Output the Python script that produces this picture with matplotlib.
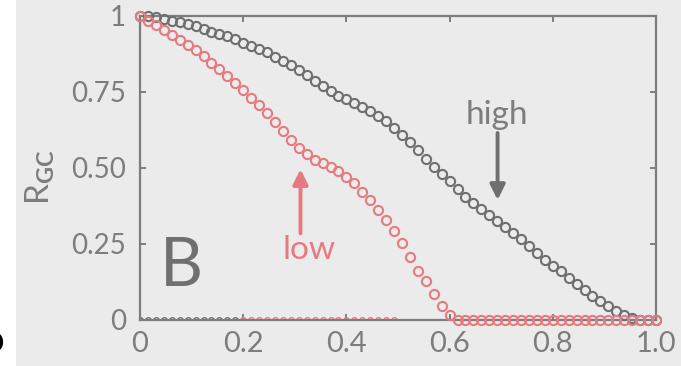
import matplotlib
matplotlib.use('Agg')
import matplotlib.pyplot as plt
import numpy as np
from matplotlib.patches import Rectangle

plt.rcParams['font.family'] = ['Lato', 'DejaVu Sans']
plt.rcParams['mathtext.fontset'] = 'custom'
plt.rcParams['mathtext.rm'] = 'Lato'
plt.rcParams['mathtext.bf'] = 'Lato:bold'

# data
x = np.linspace(0, 1, 66)
high = [1.0, 1.0, 0.998, 0.99, 0.984, 0.979, 0.974, 0.967, 0.957, 0.948,
        0.941, 0.934, 0.923, 0.912, 0.902, 0.893, 0.881, 0.866, 0.853, 0.838,
        0.824, 0.806, 0.787, 0.770, 0.752, 0.738, 0.726, 0.714, 0.702, 0.688,
        0.671, 0.654, 0.632, 0.608, 0.584, 0.558, 0.531, 0.504, 0.480, 0.458,
        0.432, 0.406, 0.386, 0.364, 0.344, 0.325, 0.306, 0.287, 0.265, 0.242,
        0.219, 0.199, 0.179, 0.160, 0.139, 0.119, 0.099, 0.080, 0.062, 0.045,
        0.029, 0.016, 0.006, 0.0, 0.0, 0.0]
low = [1.0, 0.985, 0.970, 0.954, 0.938, 0.921, 0.905, 0.887, 0.867, 0.847,
       0.825, 0.802, 0.780, 0.756, 0.731, 0.707, 0.681, 0.652, 0.622, 0.592,
       0.565, 0.545, 0.527, 0.515, 0.503, 0.491, 0.472, 0.450, 0.422, 0.394,
       0.363, 0.329, 0.293, 0.252, 0.206, 0.162, 0.128, 0.086, 0.046, 0.015] + [0.0] * 26
# markers lying on the x axis (other runs, all zero)
base_gray = [0.0] * 13
base_red = [0.0] * 20

xticks = [0, 0.2, 0.4, 0.6, 0.8, 1.0]
xticklabels = ['0', '0.2', '0.4', '0.6', '0.8', '1.0']
yticks = [0, 0.25, 0.5, 0.75, 1]
yticklabels = ['0', '0.25', '0.50', '0.75', '1']

bg = '#ebebeb'
grey = '#6f6f6f'
axc = '#7d7d7d'
red = '#e57b80'

fig = plt.figure(figsize=(6.81, 3.66), dpi=100, facecolor=bg)
fig.patches.append(Rectangle((0, 0), 16 / 681, 1, transform=fig.transFigure,
                             facecolor='white', edgecolor='none', zorder=0))
fig.text(4 / 681, 0.06, 'D', fontsize=22, fontweight='bold', color='black',
         ha='right', va='center')

ax = fig.add_axes([140 / 681, 1 - 320 / 366, 516 / 681, 304 / 366])
ax.set_facecolor(bg)

ax.plot(x[:13], base_gray, 'o', mfc='none', mec=grey, ms=4, mew=1.0, zorder=2)
ax.plot(x[13:33], base_red, 'o', mfc='none', mec=red, ms=4, mew=1.0, zorder=2)
ax.plot(x, high, 'o', mfc='none', mec=grey, ms=6.6, mew=1.5, clip_on=False, zorder=3)
ax.plot(x, low, 'o', mfc='none', mec=red, ms=6.6, mew=1.5, clip_on=False, zorder=4)

ax.set_xlim(0, 1)
ax.set_ylim(0, 1)
ax.set_xticks(xticks)
ax.set_xticklabels(xticklabels)
ax.set_yticks(yticks)
ax.set_yticklabels(yticklabels)

for s in ax.spines.values():
    s.set_color(axc)
    s.set_linewidth(1.6)
ax.tick_params(direction='in', length=4, width=1.4, color=axc,
               top=True, right=True, labelcolor=axc)
ax.tick_params(axis='x', labelsize=21, pad=8)
ax.tick_params(axis='y', labelsize=20, pad=10)

ax.set_ylabel(r'R$_{\mathbf{GC}}$', fontsize=24, color=axc)
ax.yaxis.set_label_coords(-0.16, 0.47)

# arrows and labels
ax.annotate('', xy=(0.311, 0.496), xytext=(0.311, 0.285),
            arrowprops=dict(arrowstyle='-|>,head_length=0.6,head_width=0.3',
                            mutation_scale=15, lw=2.8, color=red,
                            shrinkA=0, shrinkB=0))
ax.annotate('', xy=(0.693, 0.395), xytext=(0.693, 0.615),
            arrowprops=dict(arrowstyle='-|>,head_length=0.6,head_width=0.3',
                            mutation_scale=15, lw=2.8, color=grey,
                            shrinkA=0, shrinkB=0))
ax.text(0.328, 0.23, 'low', fontsize=24, color=red, ha='center', va='center')
ax.text(0.691, 0.674, 'high', fontsize=24, color=axc, ha='center', va='center')
ax.text(0.081, 0.173, 'B', fontsize=48, color=grey, ha='center', va='center')

plt.savefig('out.png', dpi=100, facecolor=bg)
